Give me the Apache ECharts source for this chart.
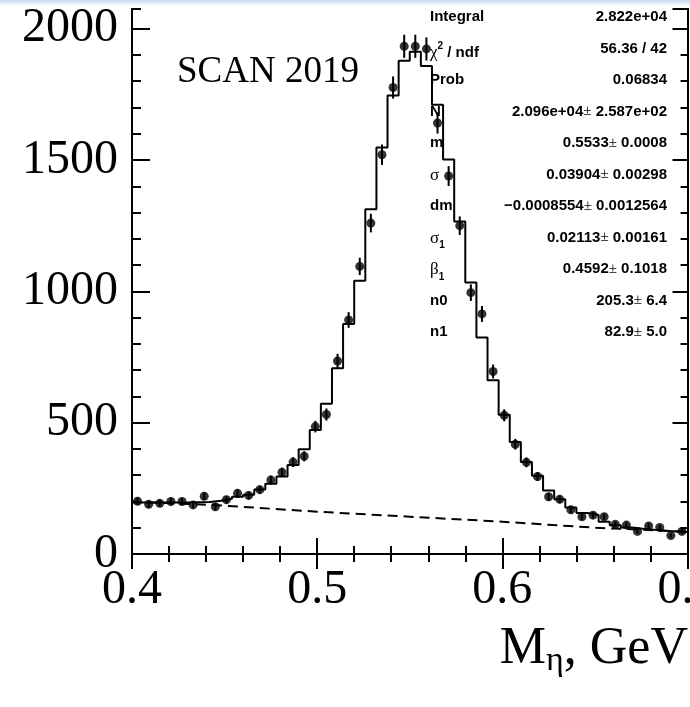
<!DOCTYPE html>
<html>
<head>
<meta charset="utf-8">
<script src="https://cdn.jsdelivr.net/npm/echarts@6/dist/echarts.min.js"></script>
<style>
html, body { margin: 0; padding: 0; background: #fff; }
#chart { width: 690px; height: 707px; }
</style>
</head>
<body>
<div id="chart"></div>
<script>
// binning of the mass histogram, GeV
const xMin = 0.4;
const xMax = 0.7;
const binWidth = 0.006;

// measured counts per bin (50 bins)
const counts = [
  201, 189, 193, 200, 200, 187, 220, 180, 207, 231,
  223, 245, 282, 311, 350, 372, 485, 531, 735, 891,
  1095, 1260, 1520, 1776, 1933, 1933, 1923, 1641, 1439, 1250,
  995, 914, 695, 528, 418, 349, 295, 218, 208, 168,
  142, 148, 142, 113, 110, 86, 107, 101, 70, 86
];

// fit function integrated per bin (drawn as step histogram)
const fitCounts = [
  196, 196, 196, 196, 196, 197, 198, 203, 210, 218,
  226, 246, 267, 295, 339, 399, 472, 572, 707, 876,
  1040, 1313, 1548, 1746, 1878, 1912, 1858, 1710, 1502, 1266,
  1034, 824, 662, 530, 426, 350, 298, 242, 208, 177,
  156, 149, 123, 109, 101, 96, 92, 89, 86, 84
];

// background component (dashed)
const bkgMass = [0.40, 0.45, 0.50, 0.55, 0.60, 0.65, 0.70];
const bkgCounts = [200, 184, 161, 142, 123, 100, 85];

// fit statistics box
const statNames = [
  '{b|Integral}',
  '{g|χ}{sup|2}{b| / ndf}',
  '{b|Prob}',
  '{b|N}',
  '{b|m}',
  '{g|σ}',
  '{b|dm}',
  '{g|σ}{sub|1}',
  '{g|β}{sub|1}',
  '{b|n0}',
  '{b|n1}'
];
const statValues = [
  '{b|2.822e+04}',
  '{b|56.36 / 42}',
  '{b|0.06834}',
  '{b|2.096e+04}{pm|±}{b| 2.587e+02}',
  '{b|0.5533}{pm|±}{b| 0.0008}',
  '{b|0.03904}{pm|±}{b| 0.00298}',
  '{b|−0.0008554}{pm|±}{b| 0.0012564}',
  '{b|0.02113}{pm|±}{b| 0.00161}',
  '{b|0.4592}{pm|±}{b| 0.1018}',
  '{b|205.3}{pm|±}{b| 6.4}',
  '{b|82.9}{pm|±}{b| 5.0}'
];

const serif = 'Liberation Serif';
const sans = 'Liberation Sans';
const yMax = 2075;

let points = counts.map((v, i) => [xMin + binWidth * (i + 0.5), v]);
let errBars = counts.map((v, i) => [xMin + binWidth * (i + 0.5), v - Math.sqrt(v), v + Math.sqrt(v)]);
let fitLine = [];
fitCounts.forEach((v, i) => {
  fitLine.push([xMin + binWidth * i, v]);
  fitLine.push([xMin + binWidth * (i + 1), v]);
});

let black = { color: '#000', width: 2 };

function xAxisAt(pos, labels) {
  return {
    type: 'value', position: pos, min: xMin, max: xMax, interval: 0.1,
    axisLine: { lineStyle: black },
    axisTick: { inside: true, length: pos === 'bottom' ? 16 : 15, lineStyle: black },
    minorTick: { show: true, splitNumber: 5, length: 8, lineStyle: black },
    splitLine: { show: false },
    axisLabel: labels ? {
      fontFamily: serif, fontSize: 48, color: '#000', margin: 12,
      formatter: v => v.toFixed(1)
    } : { show: false }
  };
}

function yAxisAt(pos, step, len, labels) {
  return {
    type: 'value', position: pos, min: 0, max: yMax, interval: step,
    axisLine: { show: true, lineStyle: black },
    axisTick: { inside: true, length: len, lineStyle: black },
    splitLine: { show: false },
    axisLabel: labels ? {
      fontFamily: serif, fontSize: 48, color: '#000', margin: 14,
      showMaxLabel: false, formatter: v => String(v)
    } : { show: false }
  };
}

let statGraphics = [];
let rich = {
  b: { fontFamily: sans, fontWeight: 'bold', fontSize: 15, lineHeight: 24, color: '#000' },
  g: { fontFamily: serif, fontSize: 17, lineHeight: 24, color: '#000' },
  pm: { fontFamily: serif, fontSize: 15, lineHeight: 24, color: '#000' },
  sup: { fontFamily: sans, fontWeight: 'bold', fontSize: 10, lineHeight: 10, verticalAlign: 'top', color: '#000' },
  sub: { fontFamily: sans, fontWeight: 'bold', fontSize: 10, lineHeight: 10, verticalAlign: 'bottom', color: '#000' }
};
statNames.forEach((name, k) => {
  let y = 21.5 + 31.5 * k;
  statGraphics.push({
    type: 'text', left: 430, top: y - 12, z: 10,
    style: { text: name, rich: rich }
  });
  statGraphics.push({
    type: 'text', right: 690 - 667, top: y - 12, z: 10,
    style: { text: statValues[k], rich: rich }
  });
});

let chart = echarts.init(document.getElementById('chart'));
chart.setOption({
  animation: false,
  backgroundColor: '#fff',
  grid: { left: 132, top: 9, right: 2.5, bottom: 153, containLabel: false, outerBoundsMode: 'none' },
  xAxis: [xAxisAt('bottom', true), xAxisAt('top', false)],
  yAxis: [
    yAxisAt('left', 500, 18, true),
    yAxisAt('left', 100, 9, false),
    yAxisAt('right', 500, 15, false),
    yAxisAt('right', 100, 7, false)
  ],
  series: [
    {
      name: 'fit', type: 'line', data: fitLine, symbol: 'none',
      lineStyle: { color: '#000', width: 2 }, z: 3
    },
    {
      name: 'background', type: 'line',
      data: bkgMass.map((m, i) => [m, bkgCounts[i]]), symbol: 'none',
      lineStyle: { color: '#000', width: 2, type: [10, 6] }, z: 3
    },
    {
      name: 'errors', type: 'custom', data: errBars, z: 4,
      encode: { x: 0, y: [1, 2] },
      renderItem: function(params, api) {
        let lo = api.coord([api.value(0), api.value(1)]);
        let hi = api.coord([api.value(0), api.value(2)]);
        return {
          type: 'line',
          shape: { x1: lo[0], y1: lo[1], x2: hi[0], y2: hi[1] },
          style: { stroke: '#000', lineWidth: 2 }
        };
      }
    },
    {
      name: 'data', type: 'scatter', data: points, symbol: 'circle', symbolSize: 9,
      itemStyle: { color: '#000' }, z: 5
    }
  ],
  graphic: [
    {
      type: 'rect', left: 0, top: 0, z: 20,
      shape: { width: 690, height: 6 },
      style: {
        fill: new echarts.graphic.LinearGradient(0, 0, 0, 1, [
          { offset: 0, color: '#c5daf2' },
          { offset: 1, color: '#ffffff' }
        ])
      }
    },
    {
      type: 'text', left: 177, top: 54, z: 10,
      style: { text: 'SCAN 2019', fontFamily: serif, fontSize: 37, fill: '#000' }
    },
    {
      type: 'text', right: 2, top: 623, z: 10,
      style: {
        text: '{m|M}{s|η}{m|, GeV}',
        rich: {
          m: { fontFamily: serif, fontSize: 52, lineHeight: 58, color: '#000' },
          s: { fontFamily: serif, fontSize: 34, lineHeight: 40, verticalAlign: 'bottom', color: '#000' }
        }
      }
    }
  ].concat(statGraphics)
});
</script>
</body>
</html>
